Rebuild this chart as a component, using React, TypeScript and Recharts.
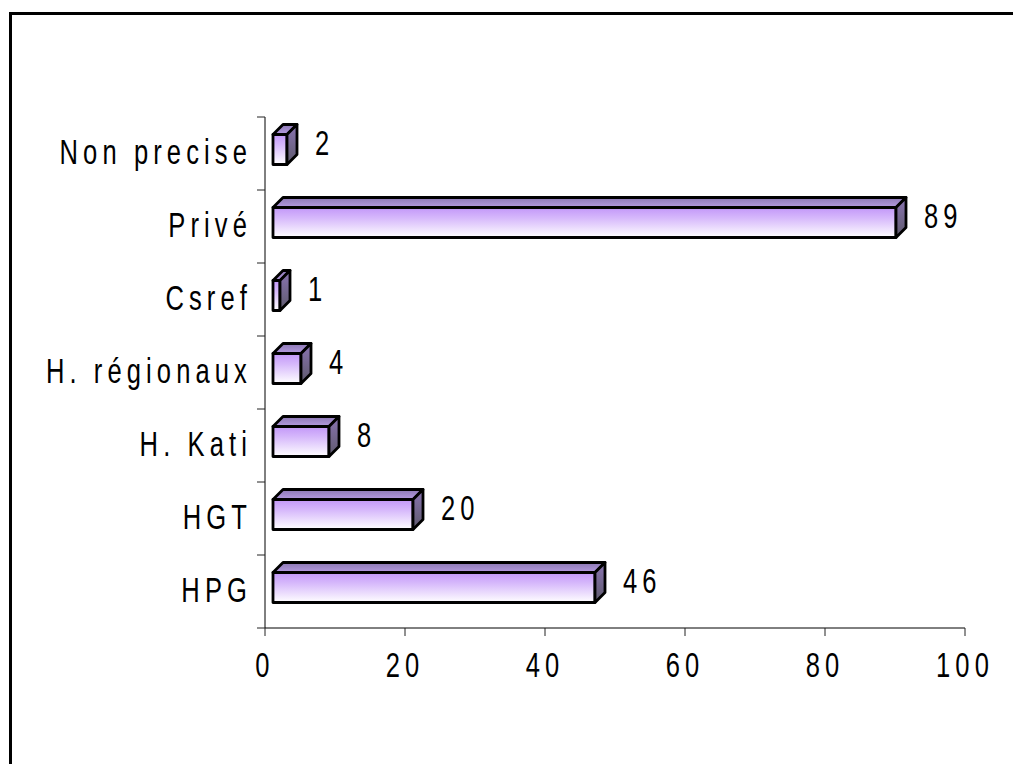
import React from 'react';
import { BarChart, Bar, XAxis, YAxis, LabelList } from 'recharts';

// Répartition par structure
const categories = ['Non precise', 'Privé', 'Csref', 'H. régionaux', 'H. Kati', 'HGT', 'HPG'];
const counts = [2, 89, 1, 4, 8, 20, 46];
const xTicks = [0, 20, 40, 60, 80, 100];

const data = categories.map((name, i) => ({ name, value: counts[i] }));

// Chart geometry
const W = 1013;
const H = 764;
const FRAME_W = 1005;
const FRAME_H = 756;
const PLOT_LEFT = 257;
const PLOT_RIGHT = 957;
const PLOT_TOP = 109;
const PLOT_BOTTOM = 620;
const X_AXIS_H = 60;
const BAND = (PLOT_BOTTOM - PLOT_TOP) / categories.length;

// 3D box look
const DEPTH = 10;
const SHIFT_X = 8;
const SHIFT_Y = -4.5;

const FONT = '"Liberation Sans", Arial, sans-serif';

function StretchedText({ x, y, anchor, children }: { x: number; y: number; anchor: 'start' | 'middle' | 'end'; children: React.ReactNode }) {
  return (
    <text
      transform={`translate(${x} ${y}) scale(0.73 1)`}
      x={0}
      y={0}
      textAnchor={anchor}
      fontFamily={FONT}
      fontSize={35}
      letterSpacing={7}
      fill="#000"
    >
      {children}
    </text>
  );
}

function YTick(props: any) {
  const { y, payload, index } = props;
  const top = y - BAND / 2;
  const bottom = y + BAND / 2;
  return (
    <g>
      <line x1={PLOT_LEFT - 8} x2={PLOT_LEFT} y1={top} y2={top} stroke="#222" strokeWidth={1} />
      {index === categories.length - 1 && (
        <line x1={PLOT_LEFT - 8} x2={PLOT_LEFT} y1={bottom} y2={bottom} stroke="#222" strokeWidth={1} />
      )}
      <StretchedText x={PLOT_LEFT - 13} y={y + 10} anchor="end">
        {payload.value}
      </StretchedText>
    </g>
  );
}

function XTick(props: any) {
  const { x, payload } = props;
  return (
    <StretchedText x={x} y={PLOT_BOTTOM + 49} anchor="middle">
      {payload.value}
    </StretchedText>
  );
}

function Box3D(props: any) {
  const { x, y, width, height } = props;
  const fx = x + SHIFT_X;
  const fy = y + SHIFT_Y;
  const fw = Math.max(width, 0);
  const fh = height;
  const d = DEPTH;
  const top = `${fx},${fy} ${fx + d},${fy - d} ${fx + fw + d},${fy - d} ${fx + fw},${fy}`;
  const side = `${fx + fw},${fy} ${fx + fw + d},${fy - d} ${fx + fw + d},${fy + fh - d} ${fx + fw},${fy + fh}`;
  return (
    <g stroke="#000" strokeWidth={2.8} strokeLinejoin="round">
      <rect x={fx} y={fy} width={fw} height={fh} fill="url(#frontFace)" />
      <polygon points={top} fill="url(#topFace)" />
      <polygon points={side} fill="url(#sideFace)" />
    </g>
  );
}

function ValueLabel(props: any) {
  const { x, y, width, value } = props;
  return (
    <StretchedText x={x + SHIFT_X + width + 28} y={y + 16.4} anchor="start">
      {value}
    </StretchedText>
  );
}

export default function App() {
  return (
    <div style={{ position: 'relative', width: FRAME_W, height: FRAME_H, overflow: 'hidden', background: '#fff' }}>
      {/* outer frame: only the left and top edges fall inside the page */}
      <div
        style={{
          position: 'absolute',
          left: 1,
          top: 4,
          width: 1200,
          height: 1000,
          borderLeft: '3px solid #000',
          borderTop: '3px solid #000',
          boxSizing: 'border-box',
        }}
      />
      <div style={{ position: 'absolute', left: 0, top: 0 }}>
        <BarChart
          width={W}
          height={H}
          data={data}
          layout="vertical"
          barSize={30}
          margin={{ top: PLOT_TOP, right: W - PLOT_RIGHT, bottom: H - PLOT_BOTTOM - X_AXIS_H, left: 0 }}
        >
          <defs>
            <linearGradient id="frontFace" x1="0" y1="0" x2="0" y2="1">
              <stop offset="0%" stopColor="#c297f8" />
              <stop offset="35%" stopColor="#d6b8fb" />
              <stop offset="100%" stopColor="#ffffff" />
            </linearGradient>
            <linearGradient id="topFace" x1="0" y1="0" x2="0" y2="1">
              <stop offset="0%" stopColor="#8c78b4" />
              <stop offset="100%" stopColor="#b59be0" />
            </linearGradient>
            <linearGradient id="sideFace" x1="0" y1="0" x2="0" y2="1">
              <stop offset="0%" stopColor="#8a74b2" />
              <stop offset="100%" stopColor="#5e5a6c" />
            </linearGradient>
          </defs>
          <XAxis
            type="number"
            domain={[0, 100]}
            ticks={xTicks}
            interval={0}
            height={X_AXIS_H}
            tickSize={8}
            axisLine={{ stroke: '#000', strokeWidth: 1 }}
            tickLine={{ stroke: '#222', strokeWidth: 1 }}
            tick={XTick}
          />
          <YAxis
            type="category"
            dataKey="name"
            width={PLOT_LEFT}
            interval={0}
            axisLine={{ stroke: '#000', strokeWidth: 1 }}
            tickLine={false}
            tick={YTick}
          />
          <Bar dataKey="value" isAnimationActive={false} shape={Box3D}>
            <LabelList dataKey="value" content={ValueLabel} />
          </Bar>
        </BarChart>
      </div>
    </div>
  );
}
